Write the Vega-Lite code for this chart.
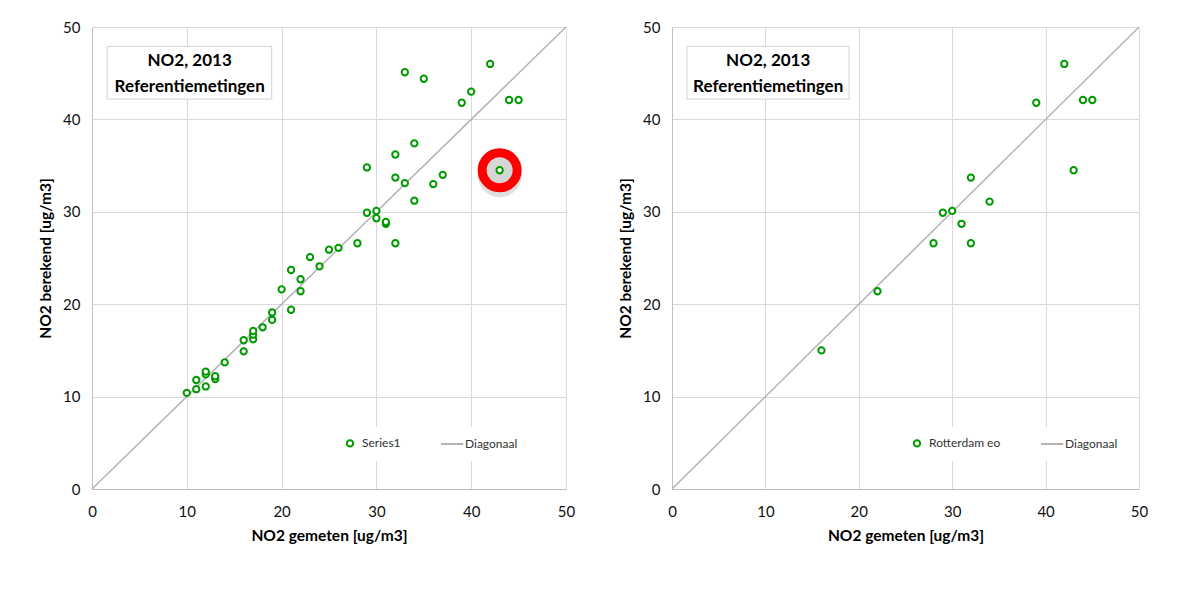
{
  "$schema": "https://vega.github.io/schema/vega-lite/v6.json",
  "background": "white",
  "padding": {"left": 38, "top": 20, "right": 0, "bottom": 0},
  "datasets": {
    "left": [
      {"x": 10, "y": 10.4, "series": "Series1", "hl": false},
      {"x": 11, "y": 10.8, "series": "Series1", "hl": false},
      {"x": 11, "y": 11.8, "series": "Series1", "hl": false},
      {"x": 12, "y": 11.1, "series": "Series1", "hl": false},
      {"x": 12, "y": 12.4, "series": "Series1", "hl": false},
      {"x": 12, "y": 12.7, "series": "Series1", "hl": false},
      {"x": 13, "y": 11.9, "series": "Series1", "hl": false},
      {"x": 13, "y": 12.2, "series": "Series1", "hl": false},
      {"x": 14, "y": 13.7, "series": "Series1", "hl": false},
      {"x": 16, "y": 14.9, "series": "Series1", "hl": false},
      {"x": 16, "y": 16.1, "series": "Series1", "hl": false},
      {"x": 17, "y": 16.2, "series": "Series1", "hl": false},
      {"x": 17, "y": 16.7, "series": "Series1", "hl": false},
      {"x": 17, "y": 17.1, "series": "Series1", "hl": false},
      {"x": 18, "y": 17.5, "series": "Series1", "hl": false},
      {"x": 19, "y": 18.3, "series": "Series1", "hl": false},
      {"x": 19, "y": 19.1, "series": "Series1", "hl": false},
      {"x": 20, "y": 21.6, "series": "Series1", "hl": false},
      {"x": 21, "y": 19.4, "series": "Series1", "hl": false},
      {"x": 21, "y": 23.7, "series": "Series1", "hl": false},
      {"x": 22, "y": 21.4, "series": "Series1", "hl": false},
      {"x": 22, "y": 22.7, "series": "Series1", "hl": false},
      {"x": 23, "y": 25.1, "series": "Series1", "hl": false},
      {"x": 24, "y": 24.1, "series": "Series1", "hl": false},
      {"x": 25, "y": 25.9, "series": "Series1", "hl": false},
      {"x": 26, "y": 26.1, "series": "Series1", "hl": false},
      {"x": 28, "y": 26.6, "series": "Series1", "hl": false},
      {"x": 29, "y": 29.9, "series": "Series1", "hl": false},
      {"x": 29, "y": 34.8, "series": "Series1", "hl": false},
      {"x": 30, "y": 29.3, "series": "Series1", "hl": false},
      {"x": 30, "y": 30.1, "series": "Series1", "hl": false},
      {"x": 31, "y": 28.7, "series": "Series1", "hl": false},
      {"x": 31, "y": 28.9, "series": "Series1", "hl": false},
      {"x": 32, "y": 26.6, "series": "Series1", "hl": false},
      {"x": 32, "y": 33.7, "series": "Series1", "hl": false},
      {"x": 32, "y": 36.2, "series": "Series1", "hl": false},
      {"x": 33, "y": 33.1, "series": "Series1", "hl": false},
      {"x": 33, "y": 45.1, "series": "Series1", "hl": false},
      {"x": 34, "y": 31.2, "series": "Series1", "hl": false},
      {"x": 34, "y": 37.4, "series": "Series1", "hl": false},
      {"x": 35, "y": 44.4, "series": "Series1", "hl": false},
      {"x": 36, "y": 33.0, "series": "Series1", "hl": false},
      {"x": 37, "y": 34.0, "series": "Series1", "hl": false},
      {"x": 39, "y": 41.8, "series": "Series1", "hl": false},
      {"x": 40, "y": 43.0, "series": "Series1", "hl": false},
      {"x": 42, "y": 46.0, "series": "Series1", "hl": false},
      {"x": 43, "y": 34.5, "series": "Series1", "hl": true},
      {"x": 44, "y": 42.1, "series": "Series1", "hl": false},
      {"x": 45, "y": 42.1, "series": "Series1", "hl": false}
    ],
    "right": [
      {"x": 16, "y": 15.0, "series": "Rotterdam eo"},
      {"x": 22, "y": 21.4, "series": "Rotterdam eo"},
      {"x": 28, "y": 26.6, "series": "Rotterdam eo"},
      {"x": 29, "y": 29.9, "series": "Rotterdam eo"},
      {"x": 30, "y": 30.1, "series": "Rotterdam eo"},
      {"x": 31, "y": 28.7, "series": "Rotterdam eo"},
      {"x": 32, "y": 26.6, "series": "Rotterdam eo"},
      {"x": 32, "y": 33.7, "series": "Rotterdam eo"},
      {"x": 34, "y": 31.1, "series": "Rotterdam eo"},
      {"x": 39, "y": 41.8, "series": "Rotterdam eo"},
      {"x": 42, "y": 46.0, "series": "Rotterdam eo"},
      {"x": 43, "y": 34.5, "series": "Rotterdam eo"},
      {"x": 44, "y": 42.1, "series": "Rotterdam eo"},
      {"x": 45, "y": 42.1, "series": "Rotterdam eo"}
    ],
    "diag": [
      {"x": 0, "y": 0, "series": "Diagonaal"},
      {"x": 50, "y": 50, "series": "Diagonaal"}
    ]
  },
  "config": {
    "font": "Lato",
    "view": {"stroke": null},
    "axis": {
      "grid": true, "gridColor": "#d9d9d9", "gridWidth": 1,
      "domainColor": "#bfbfbf", "domainWidth": 1,
      "ticks": false, "labelFlush": false,
      "labelFont": "Lato", "labelFontSize": 15, "labelColor": "#111111",
      "titleFont": "Lato", "titleFontSize": 15.5, "titleFontWeight": "bold", "titleColor": "#000000"
    },
    "axisX": {"labelPadding": 15, "titlePadding": 9},
    "axisY": {"labelPadding": 12, "titlePadding": 9},
    "legend": {
      "orient": "none", "direction": "horizontal", "columns": 2,
      "fillColor": "white", "padding": 10, "title": null,
      "labelFont": "Lato", "labelFontSize": 12, "labelColor": "#333333",
      "columnPadding": 35, "symbolSize": 40, "symbolStrokeWidth": 2, "labelOffset": 6
    }
  },
  "spacing": 106,
  "bounds": "flush",
  "resolve": {"scale": {"color": "independent", "shape": "independent"}, "legend": {"color": "independent", "shape": "independent"}},
  "hconcat": [
    {
      "width": 474, "height": 462,
      "layer": [
        {
          "data": {"name": "diag"},
          "mark": {"type": "line", "strokeWidth": 1.5},
          "encoding": {
            "x": {"field": "x", "type": "quantitative", "scale": {"domain": [0, 50], "nice": false}, "axis": {"title": "NO2 gemeten [ug/m3]", "values": [0, 10, 20, 30, 40, 50]}},
            "y": {"field": "y", "type": "quantitative", "scale": {"domain": [0, 50], "nice": false}, "axis": {"title": "NO2 berekend [ug/m3]", "values": [0, 10, 20, 30, 40, 50]}},
            "color": {"field": "series", "type": "nominal", "scale": {"domain": ["Series1", "Diagonaal"], "range": ["#009a00", "#b3b3b3"]}, "legend": {"legendX": 242, "legendY": 400}}
          }
        },
        {
          "data": {"name": "left"},
          "transform": [{"filter": "datum.hl"}],
          "mark": {"type": "point", "filled": true, "shape": "circle", "size": 1936, "color": "#d2d2d2", "opacity": 0.7, "yOffset": 5},
          "encoding": {
            "x": {"field": "x", "type": "quantitative"},
            "y": {"field": "y", "type": "quantitative"}
          }
        },
        {
          "data": {"name": "left"},
          "transform": [{"filter": "datum.hl"}],
          "mark": {"type": "point", "shape": "circle", "size": 1225, "fill": "#d6d6d6", "stroke": "#ff0000", "strokeWidth": 9, "opacity": 1},
          "encoding": {
            "x": {"field": "x", "type": "quantitative"},
            "y": {"field": "y", "type": "quantitative"}
          }
        },
        {
          "data": {"name": "left"},
          "mark": {"type": "point", "filled": false, "fill": "white", "strokeWidth": 2, "size": 40, "opacity": 1},
          "encoding": {
            "x": {"field": "x", "type": "quantitative"},
            "y": {"field": "y", "type": "quantitative"},
            "color": {"field": "series", "type": "nominal"},
            "shape": {"field": "series", "type": "nominal", "scale": {"domain": ["Series1", "Diagonaal"], "range": ["circle", "M-3.8,0H3.2"]}, "legend": {"legendX": 242, "legendY": 400}}
          }
        },
        {
          "data": {"values": [{}]},
          "mark": {"type": "rect", "fill": "white", "stroke": "#d0d0d0", "strokeWidth": 1},
          "encoding": {
            "x": {"datum": 1.6, "type": "quantitative"},
            "x2": {"datum": 18.96},
            "y": {"datum": 47.9, "type": "quantitative"},
            "y2": {"datum": 42.2}
          }
        },
        {
          "data": {"values": [{}]},
          "mark": {"type": "text", "text": ["NO2, 2013", "Referentiemetingen"], "font": "Lato", "fontWeight": "bold", "fontSize": 17, "lineHeight": 26, "align": "center", "baseline": "middle", "color": "#000000"},
          "encoding": {
            "x": {"datum": 10.3, "type": "quantitative"},
            "y": {"datum": 46.3, "type": "quantitative"}
          }
        }
      ]
    },
    {
      "width": 467, "height": 462,
      "layer": [
        {
          "data": {"name": "diag"},
          "mark": {"type": "line", "strokeWidth": 1.5},
          "encoding": {
            "x": {"field": "x", "type": "quantitative", "scale": {"domain": [0, 50], "nice": false}, "axis": {"title": "NO2 gemeten [ug/m3]", "values": [0, 10, 20, 30, 40, 50]}},
            "y": {"field": "y", "type": "quantitative", "scale": {"domain": [0, 50], "nice": false}, "axis": {"title": "NO2 berekend [ug/m3]", "values": [0, 10, 20, 30, 40, 50]}},
            "color": {"field": "series", "type": "nominal", "scale": {"domain": ["Rotterdam eo", "Diagonaal"], "range": ["#009a00", "#b3b3b3"]}, "legend": {"legendX": 229, "legendY": 400}}
          }
        },
        {
          "data": {"name": "right"},
          "mark": {"type": "point", "filled": false, "fill": "white", "strokeWidth": 2, "size": 40, "opacity": 1},
          "encoding": {
            "x": {"field": "x", "type": "quantitative"},
            "y": {"field": "y", "type": "quantitative"},
            "color": {"field": "series", "type": "nominal"},
            "shape": {"field": "series", "type": "nominal", "scale": {"domain": ["Rotterdam eo", "Diagonaal"], "range": ["circle", "M-3.8,0H3.2"]}, "legend": {"legendX": 229, "legendY": 400}}
          }
        },
        {
          "data": {"values": [{}]},
          "mark": {"type": "rect", "fill": "white", "stroke": "#d0d0d0", "strokeWidth": 1},
          "encoding": {
            "x": {"datum": 1.6, "type": "quantitative"},
            "x2": {"datum": 18.96},
            "y": {"datum": 47.9, "type": "quantitative"},
            "y2": {"datum": 42.2}
          }
        },
        {
          "data": {"values": [{}]},
          "mark": {"type": "text", "text": ["NO2, 2013", "Referentiemetingen"], "font": "Lato", "fontWeight": "bold", "fontSize": 17, "lineHeight": 26, "align": "center", "baseline": "middle", "color": "#000000"},
          "encoding": {
            "x": {"datum": 10.3, "type": "quantitative"},
            "y": {"datum": 46.3, "type": "quantitative"}
          }
        }
      ]
    }
  ]
}
